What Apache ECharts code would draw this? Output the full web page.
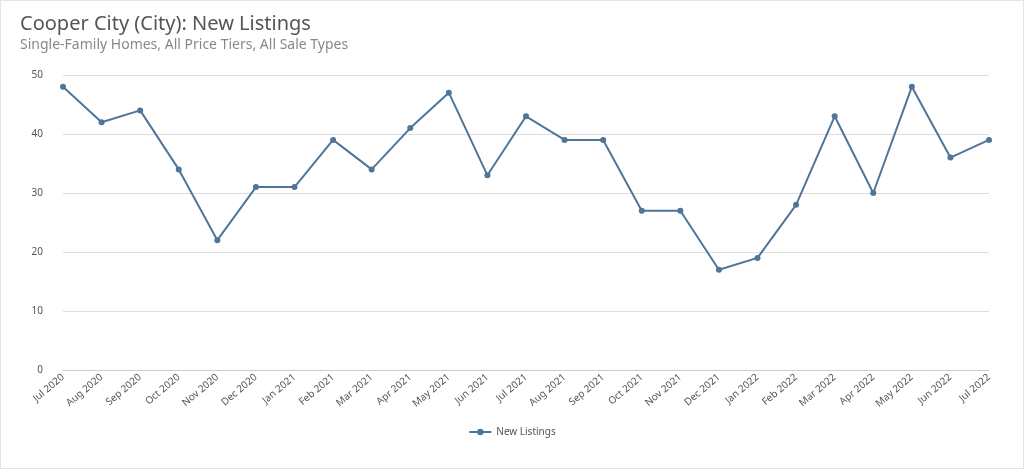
<!DOCTYPE html>
<html>
<head>
<meta charset="utf-8">
<script src="https://cdn.jsdelivr.net/npm/echarts@6/dist/echarts.min.js"></script>
<style>
html,body{margin:0;padding:0;background:#fff;}
#chart{width:1022px;height:467px;border:1px solid #e4e4e4;}
</style>
</head>
<body>
<div id="chart"></div>
<script>
var months = ["Jul 2020","Aug 2020","Sep 2020","Oct 2020","Nov 2020","Dec 2020","Jan 2021","Feb 2021","Mar 2021","Apr 2021","May 2021","Jun 2021","Jul 2021","Aug 2021","Sep 2021","Oct 2021","Nov 2021","Dec 2021","Jan 2022","Feb 2022","Mar 2022","Apr 2022","May 2022","Jun 2022","Jul 2022"];
var newListings = [48,42,44,34,22,31,31,39,34,41,47,33,43,39,39,27,27,17,19,28,43,30,48,36,39];
var seriesName = "New Listings";

var myChart = echarts.init(document.getElementById('chart'));
var option = {
	textStyle:{fontFamily:"Noto Sans"},
	title:{
		text:"Cooper City (City): New Listings",
		subtext:"Single-Family Homes, All Price Tiers, All Sale Types",
		left:14, top:8, itemGap:4,
		textStyle:{fontSize:20,fontWeight:'normal',color:'#555'},
		subtextStyle:{fontSize:14,color:'#888'}
	},
	grid:{left:62,right:34,top:74,bottom:98},
	legend:{
		bottom:26, left:'center',
		itemWidth:22, itemHeight:8,
		textStyle:{fontSize:10,color:'#555'},
		data:[seriesName]
	},
	xAxis:{
		type:'category', boundaryGap:false, data:months,
		axisLine:{lineStyle:{color:'#ccc'}},
		axisTick:{show:false},
		axisLabel:{rotate:40,fontSize:10,color:'#555',interval:0,margin:6}
	},
	yAxis:{
		type:'value', min:0, max:50, interval:10,
		axisLine:{show:false}, axisTick:{show:false},
		axisLabel:{fontSize:10,color:'#555',margin:20},
		splitLine:{lineStyle:{color:'#ddd'}}
	},
	series:[{
		name:seriesName, type:'line', data:newListings,
		symbol:'circle', symbolSize:6,
		lineStyle:{color:'#4f7599',width:2},
		itemStyle:{color:'#4f7599'}
	}]
};
myChart.setOption(option);
</script>
</body>
</html>
